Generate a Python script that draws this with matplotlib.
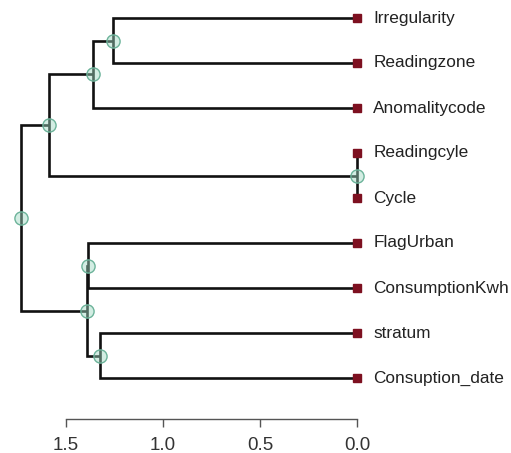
import matplotlib
matplotlib.use("Agg")
import matplotlib.pyplot as plt

plt.rcParams['font.family'] = ['Liberation Sans', 'DejaVu Sans']

# Leaf order (top to bottom)
leaves = ["Irregularity", "Readingzone", "Anomalitycode", "Readingcyle", "Cycle",
          "FlagUrban", "ConsumptionKwh", "stratum", "Consuption_date"]

# Merge steps: negative = leaf index (1-based), positive = earlier merge (1-based)
merge_left = [-4, -1, -8, 2, -6, 5, 4, 7]
merge_right = [-5, -2, -9, -3, -7, 3, 1, 6]
merge_height = [0.0, 1.26, 1.325, 1.36, 1.385, 1.39, 1.59, 1.73]

axis_ticks = [1.5, 1.0, 0.5, 0.0]

line_color = "#111111"
leaf_color = "#7d1020"
node_face = (0.62, 0.85, 0.76, 0.45)
node_edge = "#6cb39a"

fig = plt.figure(figsize=(5.11, 4.53), dpi=100)
W, H = 511, 453
left_px, right_px, top_px, bot_px = 10, 357, 10, 390
ax = fig.add_axes([left_px / W, 1 - bot_px / H, (right_px - left_px) / W, (bot_px - top_px) / H])

# positions of each leaf and each merged node
pos = {}
for i, name in enumerate(leaves):
    pos[-(i + 1)] = (0.0, float(i))

for k, (a, b, h) in enumerate(zip(merge_left, merge_right, merge_height), start=1):
    xa, ya = pos[a]
    xb, yb = pos[b]
    ax.plot([xa, h, h, xb], [ya, ya, yb, yb], color=line_color, lw=1.9,
            solid_joinstyle="miter", solid_capstyle="butt", zorder=2, clip_on=False)
    ym = (ya + yb) / 2
    pos[k] = (h, ym)

# internal node markers
for k, h in enumerate(merge_height, start=1):
    x, y = pos[k]
    ax.plot(x, y, marker="o", ms=9.5, mfc=node_face, mec=node_edge, mew=1.0,
            zorder=4, clip_on=False)

# leaf markers and labels
for i, name in enumerate(leaves):
    ax.plot(0.0, i, marker="s", ms=5.5, color=leaf_color, zorder=3, clip_on=False)
    ax.annotate(name, (0.0, i), xytext=(11.8, 0), textcoords="offset points",
                va="center", ha="left", fontsize=12.4, color="#222222",
                annotation_clip=False)

unit_px = 194.0
ax.set_xlim((right_px - left_px) / unit_px, 0)
ax.set_ylim(8 + (bot_px - 378) / 45.0, -(18 - top_px) / 45.0)

for s in ["top", "right", "left"]:
    ax.spines[s].set_visible(False)
ax.spines["bottom"].set_position(("outward", 21))
ax.spines["bottom"].set_bounds(0.0, 1.5)
ax.spines["bottom"].set_color("#555555")
ax.spines["bottom"].set_linewidth(1.0)
ax.set_xticks(axis_ticks)
ax.set_xticklabels([f"{t:.1f}" for t in axis_ticks])
ax.tick_params(axis="x", direction="out", length=5.8, width=1.0, color="#555555",
               labelsize=13.5, labelcolor="#333333", pad=7)
ax.set_yticks([])

fig.savefig("out.png", dpi=100)
